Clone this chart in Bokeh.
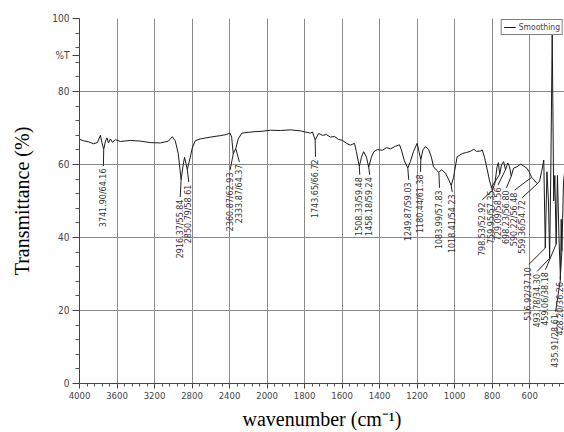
import numpy as np
from bokeh.plotting import figure
from bokeh.models import ColumnDataSource, Range1d, FixedTicker
from bokeh.core.properties import value
from bokeh.embed import file_html
from bokeh.resources import INLINE

# ---------------- data ----------------
wavenumber = [4000, 3957, 3904, 3851, 3809, 3777, 3761, 3741.90, 3723, 3707, 3691, 3670, 3649,
              3617, 3564, 3457, 3351, 3245, 3138, 3053, 3011, 2979, 2947, 2916.37, 2894, 2880,
              2850.79, 2819, 2798, 2766, 2713, 2606, 2500, 2436, 2394, 2378, 2360.87, 2333.87,
              2308, 2269, 2202, 2128, 2053, 1982, 1929, 1876, 1822, 1796, 1769, 1758, 1743.65,
              1725, 1705, 1684, 1662, 1641, 1620, 1598, 1577, 1556, 1534, 1524, 1508.33, 1497,
              1485, 1470, 1458.18, 1444, 1431, 1412, 1385, 1364, 1342, 1316, 1294, 1284, 1268,
              1249.87, 1236, 1220, 1200, 1190, 1180.44, 1169, 1156, 1140, 1124, 1113, 1098,
              1083.99, 1070, 1049, 1033, 1018.41, 1006, 987, 960, 937, 916, 898, 884, 862, 853,
              841, 826, 814, 798.53, 785, 774, 767, 759.95, 750, 739, 729.09, 717, 708, 698.23,
              686, 667, 649, 633, 615, 601, 590.22, 577, 559.36, 547, 537, 525, 516.92, 508, 500,
              493.78, 487, 480, 472, 466, 459.06, 452, 444, 435.91, 432, 428.20, 420, 414]
transmittance = [66.9, 66.5, 66.2, 65.7, 66.0, 68.0, 66.0, 64.16, 66.4, 67.3, 65.9, 67.0, 66.1,
                 66.8, 66.3, 66.6, 66.4, 66.0, 65.9, 66.4, 67.6, 66.5, 63.0, 55.84, 60.0, 62.0,
                 58.61, 62.0, 64.5, 66.5, 67.0, 67.5, 67.9, 68.2, 68.6, 67.5, 62.93, 64.37,
                 67.0, 68.6, 68.8, 69.0, 69.1, 69.4, 69.3, 69.5, 69.2, 68.9, 68.6, 68.9, 66.72,
                 68.5, 68.0, 68.2, 67.5, 67.7, 66.9, 66.6, 65.8, 65.3, 65.8, 63.5, 59.48, 62.0,
                 63.5, 62.0, 59.24, 62.0, 63.5, 64.1, 63.9, 64.6, 64.3, 65.0, 65.4, 64.0, 61.0,
                 59.03, 60.8, 63.5, 65.8, 63.5, 61.38, 64.0, 64.9, 64.2, 62.0, 59.4, 58.5,
                 57.83, 58.6, 57.6, 56.0, 54.23, 56.5, 62.1, 63.0, 63.3, 63.6, 64.2, 63.6, 63.7, 64.0,
                 62.0, 58.5, 55.5, 52.92, 55.0, 59.4, 60.5, 57.35, 60.0, 60.8, 58.56, 60.4, 59.5, 56.80,
                 59.0, 59.4, 60.1, 59.6, 59.0, 57.8, 56.48, 55.8, 54.72, 55.5, 58.0, 61.2, 37.10, 58.0, 50.0,
                 34.30, 60.0, 96.0, 50.0, 57.0, 38.18, 57.0, 40.0, 28.61, 45.0, 36.26, 55.0, 58.0]

# picked peaks
peak_wn = [3741.90, 2916.37, 2850.79, 2360.87, 2333.87, 1743.65, 1508.33, 1458.18, 1249.87,
           1180.44, 1083.99, 1018.41, 798.53, 759.95, 729.09, 698.23, 590.22, 559.36, 516.92,
           493.78, 459.06, 435.91, 428.20]
peak_t = [64.16, 55.84, 58.61, 62.93, 64.37, 66.72, 59.48, 59.24, 59.03, 61.38, 57.83, 54.23,
          52.92, 57.35, 58.56, 56.80, 56.48, 54.72, 37.10, 34.30, 38.18, 28.61, 36.26]
# where each peak label is written (wavenumber, %T of its upper end)
label_wn = [3745, 2926, 2835, 2394, 2295, 1742, 1506, 1453, 1245, 1182, 1081, 1013, 853, 806,
            769, 724, 680, 640, 605, 560, 516, 462, 438]
label_top = [59.6, 51.1, 55.2, 58.5, 60.7, 62.1, 57.2, 57.2, 55.8, 58.0, 53.6, 52.5, 50.3, 53.6,
             54.4, 53.6, 53.0, 50.9, 32.6, 30.7, 31.2, 19.7, 28.5]

x_tick_labels = [4000, 3600, 3200, 2800, 2400, 2000, 1800, 1600, 1400, 1200, 1000, 800, 600]
y_tick_labels = [0, 20, 40, 60, 80, 100]
y_unit_mark = 90  # position of the "%T" mark on the y axis


# wavenumber axis is expanded 2x below 2000 cm-1
def axis_pos(wn):
    wn = np.asarray(wn, dtype=float)
    return np.where(wn >= 2000, wn, 2 * wn - 2000)


narrow = "'Liberation Sans Narrow', 'DejaVu Sans Condensed', 'Liberation Sans', sans-serif"

p = figure(width=564, height=432, output_backend="svg", toolbar_location=None,
           x_range=Range1d(4000, -1171), y_range=Range1d(0, 100),
           min_border_left=79, min_border_right=0, min_border_top=18, min_border_bottom=48)
p.outline_line_color = None
p.background_fill_color = "white"
p.border_fill_color = "white"

# ticks
xt = [float(v) for v in axis_pos(x_tick_labels)]
x_minor = [float(v) for v in np.arange(4000, -1180, -80) if float(v) not in xt]
xticker = FixedTicker(ticks=xt, minor_ticks=x_minor)
y_minor = [v for v in range(0, 101, 4) if v % 20]
yaxis_ticker = FixedTicker(ticks=y_tick_labels + [y_unit_mark], minor_ticks=y_minor)
ygrid_ticker = FixedTicker(ticks=y_tick_labels)
p.xaxis.ticker = xticker
p.xgrid.ticker = xticker
p.yaxis.ticker = yaxis_ticker
p.ygrid.ticker = ygrid_ticker
p.xaxis.major_label_overrides = {int(u): str(w) for u, w in zip(xt, x_tick_labels)}
p.yaxis.major_label_overrides = {y_unit_mark: "%T"}

for ax in (p.xaxis, p.yaxis):
    ax.axis_line_color = "#444444"
    ax.major_tick_line_color = "#444444"
    ax.minor_tick_line_color = "#555555"
    ax.major_tick_line_width = 1
    ax.minor_tick_line_width = 1
    ax.major_tick_in = 0
    ax.minor_tick_in = 0
    ax.major_label_text_font = narrow
    ax.major_label_text_color = "#444444"
    ax.axis_label_text_font = "Liberation Serif"
    ax.axis_label_text_font_style = "normal"
    ax.axis_label_text_font_size = "20px"
    ax.axis_label_text_color = "black"

p.xaxis.major_tick_out = 5
p.xaxis.minor_tick_out = 3
p.xaxis.major_label_standoff = 3
p.xaxis.major_label_text_font_size = "9.5px"
p.xaxis.axis_label = "wavenumber (cm\u207b\u00b9)"
p.xaxis.axis_label_standoff = 6

p.yaxis.major_tick_out = 7
p.yaxis.minor_tick_out = 4
p.yaxis.major_label_standoff = 3
p.yaxis.major_label_text_font_size = "10px"
p.yaxis.axis_label = "Transmittance (%)"
p.yaxis.axis_label_standoff = 16

for g in (p.xgrid, p.ygrid):
    g.grid_line_color = "#8a8a8a"
    g.grid_line_width = 1
    g.grid_line_alpha = 1

# spectrum
spec = ColumnDataSource(dict(x=axis_pos(wavenumber), y=transmittance))
p.line("x", "y", source=spec, line_color="#1a1a1a", line_width=1, legend_label="Smoothing")

# peak labels with leader lines
pk = ColumnDataSource(dict(
    px=axis_pos(peak_wn), py=peak_t,
    lx=axis_pos(label_wn), ly=label_top,
    ty=[t - 0.7 for t in label_top],
    text=[f"{w:.2f}/{t:.2f}" for w, t in zip(peak_wn, peak_t)],
))
p.segment(x0="px", y0="py", x1="lx", y1="ly", source=pk, line_color="#222222", line_width=1)
p.text(x="lx", y="ty", text="text", source=pk, angle=np.pi / 2, text_align="right",
       text_baseline="middle", text_font=value("DejaVu Sans"), text_font_size="8px",
       text_color="#333333")

# legend
lg = p.legend[0]
lg.location = "top_right"
lg.margin = 1
lg.padding = 2
lg.spacing = 0
lg.label_text_font = narrow
lg.label_text_font_size = "8.5px"
lg.label_height = 8
lg.glyph_height = 8
lg.glyph_width = 12
lg.label_standoff = 3
lg.border_line_color = "black"
lg.border_line_width = 1
lg.background_fill_alpha = 1

open("out.html", "w").write(file_html(p, INLINE))
